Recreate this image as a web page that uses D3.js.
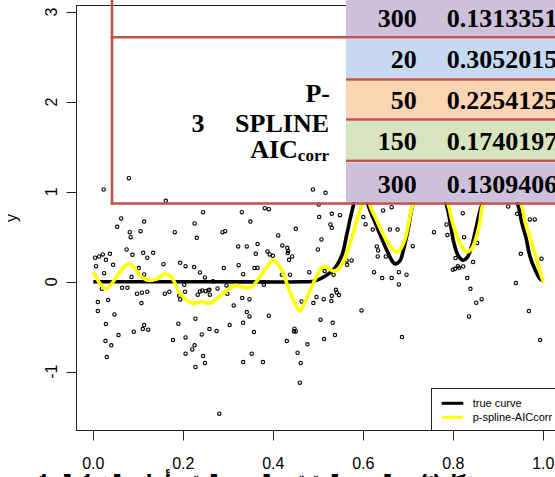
<!DOCTYPE html>
<html>
<head>
<meta charset="utf-8">
<script src="https://cdn.jsdelivr.net/npm/d3@7"></script>
<style>
  body { margin: 0; background: #fff; overflow: hidden; }
</style>
</head>
<body>
<div class="chart"></div>
<script>
// Scatter data
var ptX = [0.081,0.083,0.105,0.181,0.230,0.287,0.293,0.411,0.004,0.013,0.021,0.037,0.028,0.006,0.074,0.087,0.111,0.120,0.133,0.101,
  0.113,0.024,0.044,0.085,0.156,0.193,0.205,0.224,0.237,0.248,0.290,0.322,0.341,0.365,0.361,0.323,0.333,0.358,0.365,0.387,
  0.392,0.399,0.064,0.076,0.019,0.097,0.108,0.120,0.107,0.010,0.033,0.010,0.159,0.169,0.202,0.204,0.191,0.193,0.232,0.237,
  0.242,0.250,0.256,0.258,0.259,0.276,0.266,0.296,0.298,0.312,0.331,0.347,0.378,0.379,0.028,0.047,0.056,0.090,0.113,0.110,
  0.122,0.189,0.227,0.177,0.205,0.241,0.258,0.274,0.303,0.333,0.341,0.347,0.357,0.390,0.027,0.040,0.030,0.205,0.220,0.225,
  0.227,0.244,0.248,0.333,0.352,0.377,0.280,0.079,0.023,0.161,0.488,0.516,0.244,0.330,0.381,0.390,0.501,0.502,0.530,0.548,
  0.062,0.113,0.053,0.225,0.349,0.450,0.527,0.530,0.600,0.605,0.621,0.644,0.663,0.659,0.676,0.785,0.821,0.922,0.942,0.970,
  0.981,0.420,0.431,0.433,0.432,0.435,0.442,0.499,0.507,0.419,0.437,0.480,0.514,0.534,0.539,0.541,0.546,0.530,0.529,0.512,
  0.496,0.489,0.463,0.505,0.532,0.537,0.513,0.447,0.450,0.446,0.430,0.476,0.454,0.461,0.459,0.574,0.564,0.596,0.624,0.642,
  0.663,0.679,0.679,0.696,0.686,0.630,0.633,0.632,0.650,0.710,0.757,0.787,0.824,0.810,0.799,0.804,0.813,0.822,0.844,0.831,
  0.838,0.851,0.863,0.835,0.939,0.950,0.968,0.996,0.993,0.805,0.853,0.563];
var ptY = [0.552,0.496,0.563,0.552,0.489,0.552,0.563,0.515,0.267,0.281,0.304,0.311,0.244,0.174,0.359,0.300,0.322,0.267,0.322,0.152,
  0.081,0.096,0.189,0.052,0.196,0.211,0.174,0.163,0.104,0.048,0.152,0.393,0.393,0.419,0.311,0.185,0.085,0.152,0.156,0.337,
  0.304,0.289,-0.067,-0.067,-0.078,-0.133,-0.122,-0.111,-0.237,-0.226,-0.204,-0.326,-0.133,-0.111,-0.033,-0.111,-0.156,-0.196,-0.144,-0.107,
  -0.096,-0.104,-0.093,-0.089,-0.144,-0.074,0.007,-0.041,-0.133,-0.263,-0.181,-0.193,-0.004,-0.033,-0.470,-0.363,-0.593,-0.556,-0.481,-0.526,
  -0.533,-0.467,-0.411,-0.648,-0.619,-0.585,-0.526,-0.548,-0.481,-0.456,-0.337,-0.385,-0.559,-0.378,-0.659,-0.707,-0.837,-0.800,-0.752,-0.707,
  -0.948,-0.826,-0.904,-0.893,-0.800,-0.893,-1.467,1.152,1.026,0.900,1.026,0.989,0.774,0.774,0.819,0.807,0.859,0.719,0.756,0.741,
  0.704,0.670,0.611,0.648,0.670,0.589,0.637,0.600,0.719,0.641,0.581,0.793,0.830,0.581,0.581,0.637,0.763,0.837,0.756,0.693,
  0.693,0.404,0.378,0.341,0.319,0.244,0.281,0.359,0.470,0.078,0.078,0.107,0.119,0.078,-0.089,-0.119,-0.148,-0.156,-0.215,-0.193,
  -0.170,-0.237,-0.219,-0.422,-0.456,-0.593,-0.637,-0.522,-0.552,-0.552,-0.659,-0.696,-0.789,-0.904,-1.122,0.237,0.189,-0.319,0.107,0.041,
  0.041,0.107,-0.030,0.078,-0.615,0.393,0.348,0.281,0.281,0.396,0.552,0.519,0.496,0.174,0.133,0.144,0.156,0.170,0.219,0.041,
  -0.078,-0.233,-0.193,-0.385,-0.015,0.311,-0.326,0.256,-0.648,0.263,0.430,0.237];

// True curve
var trueX = [0,0.25,0.47,0.49,0.511,0.533,0.552,0.563,0.570,0.579,0.595,0.611,0.626,0.641,0.656,0.670,0.681,0.690,0.700,0.710,
  0.748,0.785,0.793,0.801,0.811,0.822,0.831,0.841,0.852,0.863,0.904,0.944,0.952,0.962,0.970,0.982,0.993,1.0];
var trueY = [0,0,0,0.005,0.05,0.13,0.29,0.52,0.68,0.87,1.15,0.85,0.66,0.48,0.31,0.20,0.23,0.37,0.59,0.85,
  1.3,0.85,0.66,0.44,0.29,0.24,0.27,0.40,0.63,0.85,1.3,0.85,0.66,0.48,0.29,0.13,0.03,0.01];

// p-spline AICcorr fit
var fitX = [0,0.015,0.028,0.041,0.059,0.078,0.089,0.104,0.119,0.141,0.159,0.174,0.189,0.204,0.222,0.241,0.259,0.274,0.296,0.315,
  0.333,0.350,0.367,0.385,0.400,0.419,0.433,0.448,0.459,0.470,0.485,0.500,0.511,0.522,0.533,0.544,0.556,0.567,0.578,0.589,
  0.596,0.606,0.615,0.630,0.644,0.659,0.674,0.681,0.693,0.700,0.710,0.750,0.789,0.796,0.807,0.819,0.830,0.841,0.850,0.859,
  0.865,0.908,0.952,0.959,0.969,0.978,0.987,0.994,1.0];
var fitY = [0.11,-0.02,-0.08,-0.02,0.11,0.20,0.17,0.07,0.02,0.03,0.09,0.05,-0.10,-0.19,-0.24,-0.22,-0.24,-0.19,-0.10,-0.04,
  -0.06,-0.06,0.03,0.16,0.24,0.13,-0.06,-0.24,-0.32,-0.23,-0.06,0.10,0.17,0.15,0.12,0.14,0.22,0.37,0.55,0.74,
  0.85,1.05,0.85,0.68,0.53,0.40,0.33,0.35,0.48,0.63,0.85,1.25,0.85,0.70,0.52,0.39,0.33,0.37,0.48,0.66,
  0.85,1.25,0.85,0.68,0.52,0.37,0.22,0.09,0.0];

var xTicks = [0, 0.2, 0.4, 0.6, 0.8, 1.0];
var yTicks = [-1, 0, 1, 2, 3];
var legendLabels = ["true curve", "p-spline-AICcorr"];
var legendColors = ["#000", "#ffff00"];

// table overlay
var tableN = ["300", "20", "50", "150", "300"];
var tableErr = ["0.1313351", "0.3052015", "0.2254125", "0.1740197", "0.1309406"];
var rowFill = ["#ccc0da", "#c6d9f1", "#fbd4b4", "#d7e4bd", "#ccc0da"];
var caption = "شكل (٣) يبين المنحني الحقيقي والمنحني المقدر بأسلوب الشرائح الجزائية";

var svg = d3.select(".chart").append("svg")
  .attr("width", 555)
  .attr("height", 477)
  .style("font-family", "'Liberation Sans', Arial, sans-serif");

var box = { left: 76.5, right: 562, top: 5.5, bottom: 430.5 };

var x = d3.scaleLinear().domain([0, 1]).range([93.3, 543.3]);
var y = d3.scaleLinear().domain([-1, 3]).range([371.7, 12]);

// plot frame
svg.append("rect")
  .attr("x", box.left).attr("y", box.top)
  .attr("width", box.right - box.left).attr("height", box.bottom - box.top)
  .attr("fill", "none").attr("stroke", "#222").attr("stroke-width", 1);

// y axis
yTicks.forEach(function (t) {
  var yy = Math.round(y(t)) + 0.5;
  svg.append("line").attr("x1", box.left - 10).attr("x2", box.left)
    .attr("y1", yy).attr("y2", yy).attr("stroke", "#222");
  svg.append("text")
    .attr("transform", "translate(57," + y(t) + ") rotate(-90)")
    .attr("text-anchor", "middle")
    .attr("font-size", 16)
    .text(t);
});

// x axis
xTicks.forEach(function (t) {
  var xx = Math.round(x(t)) + 0.5;
  svg.append("line").attr("x1", xx).attr("x2", xx)
    .attr("y1", box.bottom).attr("y2", box.bottom + 10).attr("stroke", "#222");
  svg.append("text")
    .attr("x", x(t)).attr("y", 468.5)
    .attr("text-anchor", "middle")
    .attr("font-size", 16)
    .text(d3.format(".1f")(t));
});

svg.append("text")
  .attr("transform", "translate(16.6,218) rotate(-90)")
  .attr("text-anchor", "middle")
  .attr("font-size", 16)
  .text("y");

// points
var pts = ptX.map(function (d, i) { return [d, ptY[i]]; });
svg.append("g").selectAll("circle")
  .data(pts)
  .enter()
  .append("circle")
  .attr("cx", d => x(d[0]))
  .attr("cy", d => y(d[1]))
  .attr("r", 1.7)
  .attr("fill", "none")
  .attr("stroke", "#000")
  .attr("stroke-width", 1.1);

// curves
var line = d3.line()
  .x(d => x(d[0]))
  .y(d => y(d[1]))
  .curve(d3.curveCatmullRom.alpha(0.5));

svg.append("path")
  .attr("d", line(trueX.map(function (d, i) { return [d, trueY[i]]; })))
  .attr("fill", "none").attr("stroke", "#000").attr("stroke-width", 3.6);

svg.append("path")
  .attr("d", line(fitX.map(function (d, i) { return [d, fitY[i]]; })))
  .attr("fill", "none").attr("stroke", "#ffff00").attr("stroke-width", 3.6);

// legend
svg.append("rect")
  .attr("x", 431.5).attr("y", 388.5)
  .attr("width", 140).attr("height", 42)
  .attr("fill", "#fff").attr("stroke", "#222");

legendLabels.forEach(function (lab, i) {
  var ly = 403.3 + i * 14;
  svg.append("line").attr("x1", 441.7).attr("x2", 463.3)
    .attr("y1", ly).attr("y2", ly)
    .attr("stroke", legendColors[i]).attr("stroke-width", 3);
  svg.append("text").attr("x", 472.7).attr("y", ly + 4)
    .attr("font-size", 11).text(lab);
});

// table overlay
var tbl = svg.append("g").style("font-family", "'Liberation Serif', 'Times New Roman', serif")
  .style("font-weight", "bold");
var rowTop = [0, 38.7, 80.7, 120.7, 162.3];
var rowBot = [36, 78.3, 118.3, 159.3, 202.3];
var rowBase = [27, 68.3, 109, 150, 192.5];

tableN.forEach(function (n, i) {
  tbl.append("rect").attr("x", 346).attr("y", rowTop[i])
    .attr("width", 209).attr("height", rowBot[i] - rowTop[i])
    .attr("fill", rowFill[i]);
  tbl.append("text").attr("x", 416.7).attr("y", rowBase[i])
    .attr("text-anchor", "end").attr("font-size", 26).text(n);
  tbl.append("text").attr("x", 446.7).attr("y", rowBase[i])
    .attr("font-size", 26).text(tableErr[i]);
});

var red = "#c0504d";
tbl.append("line").attr("x1", 112).attr("x2", 112).attr("y1", 0).attr("y2", 204.7)
  .attr("stroke", red).attr("stroke-width", 2.6);
tbl.append("line").attr("x1", 110.7).attr("x2", 555).attr("y1", 37.3).attr("y2", 37.3)
  .attr("stroke", red).attr("stroke-width", 2.6);
tbl.append("line").attr("x1", 110.7).attr("x2", 555).attr("y1", 203.5).attr("y2", 203.5)
  .attr("stroke", red).attr("stroke-width", 2.6);
[79.5, 119.5, 160.8].forEach(function (ly) {
  tbl.append("line").attr("x1", 346).attr("x2", 555).attr("y1", ly).attr("y2", ly)
    .attr("stroke", red).attr("stroke-width", 2.4);
});

tbl.append("text").attr("x", 191.5).attr("y", 131.7).attr("font-size", 26).text("3");
tbl.append("text").attr("x", 330).attr("y", 101.7).attr("text-anchor", "end")
  .attr("font-size", 26).text("P-");
tbl.append("text").attr("x", 329).attr("y", 131.7).attr("text-anchor", "end")
  .attr("font-size", 26).text("SPLINE");
var aic = tbl.append("text").attr("x", 329).attr("y", 158).attr("text-anchor", "end")
  .attr("font-size", 26);
aic.append("tspan").text("AIC");
aic.append("tspan").attr("font-size", 17).attr("dy", 3).text("corr");

// caption (cut off at the bottom)
svg.append("text")
  .attr("x", 481).attr("y", 489)
  .attr("text-anchor", "end")
  .attr("font-size", 20)
  .attr("font-weight", "bold")
  .attr("font-family", "'DejaVu Sans', sans-serif")
  .attr("textLength", 456)
  .attr("lengthAdjust", "spacing")
  .text(caption);
</script>
</body>
</html>
